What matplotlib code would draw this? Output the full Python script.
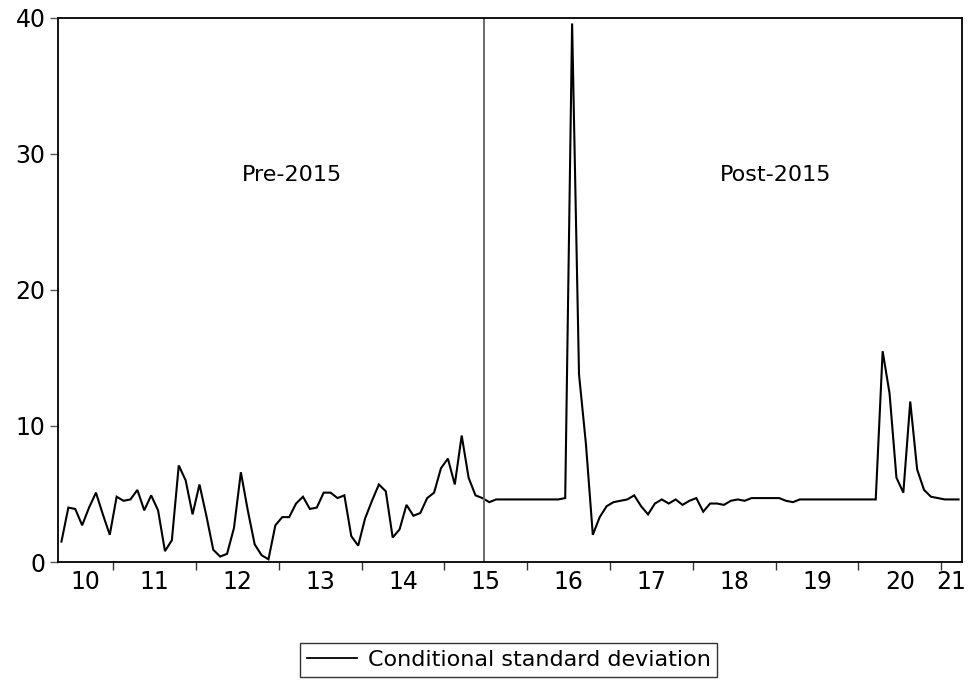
import numpy as np
import matplotlib
matplotlib.use("Agg")
import matplotlib.pyplot as plt
from matplotlib.lines import Line2D

plt.rcParams['font.family'] = ['DejaVu Sans']

# Monthly sample 2010M05 - 2021M03
start_year, start_month = 2010, 5
values = [
    1.5, 4.0, 3.9, 2.7, 4.0, 5.1, 3.5, 2.0, 4.8, 4.5,
    4.6, 5.3, 3.8, 4.9, 3.8, 0.8, 1.6, 7.1, 6.0, 3.5,
    5.7, 3.4, 0.9, 0.4, 0.6, 2.5, 6.6, 3.8, 1.3, 0.5,
    0.2, 2.7, 3.3, 3.3, 4.3, 4.8, 3.9, 4.0, 5.1, 5.1,
    4.7, 4.9, 1.9, 1.2, 3.2, 4.5, 5.7, 5.2, 1.8, 2.4,
    4.2, 3.4, 3.6, 4.7, 5.1, 6.9, 7.6, 5.7, 9.3, 6.2,
    4.9, 4.7, 4.4, 4.6, 4.6, 4.6, 4.6, 4.6, 4.6, 4.6,
    4.6, 4.6, 4.6, 4.7, 39.6, 13.8, 8.7, 2.0, 3.3, 4.1,
    4.4, 4.5, 4.6, 4.9, 4.1, 3.5, 4.3, 4.6, 4.3, 4.6,
    4.2, 4.5, 4.7, 3.7, 4.3, 4.3, 4.2, 4.5, 4.6, 4.5,
    4.7, 4.7, 4.7, 4.7, 4.7, 4.5, 4.4, 4.6, 4.6, 4.6,
    4.6, 4.6, 4.6, 4.6, 4.6, 4.6, 4.6, 4.6, 4.6, 15.5,
    12.4, 6.2, 5.1, 11.8, 6.8, 5.3, 4.8, 4.7, 4.6, 4.6,
    4.6,
]
break_date = 2015.48
year_labels = ['10', '11', '12', '13', '14', '15', '16', '17', '18', '19', '20', '21']
label_years = list(range(2010, 2022))
y_ticks = [0, 10, 20, 30, 40]
period_labels = ['Pre-2015', 'Post-2015']
period_label_x = [2013.16, 2019.0]
legend_label = 'Conditional standard deviation'

n = len(values)
t = np.array([start_year + (start_month - 1 + k) / 12 + 1 / 24 for k in range(n)])
xmin, xmax = t[0] - 1 / 24, t[-1] + 1 / 24

fig = plt.figure(figsize=(9.72, 6.8), dpi=100)
ax = fig.add_axes([58 / 972, 1 - 562 / 680, (962 - 58) / 972, (562 - 18) / 680])

ax.plot(t, values, color='black', lw=1.5, solid_joinstyle='miter')
ax.axvline(break_date, color='#6a6a6a', lw=1.4)

ax.set_xlim(xmin, xmax)
ax.set_ylim(0, 40)

ax.set_yticks(y_ticks)
ax.set_yticklabels([str(v) for v in y_ticks], fontsize=17)
ax.tick_params(axis='y', direction='out', length=6, width=1, color='#555555', pad=3)

# year boundary ticks
boundaries = [y for y in range(2011, 2022) if xmin < y < xmax]
ax.set_xticks(boundaries)
ax.set_xticklabels([])
ax.tick_params(axis='x', which='major', direction='out', length=6, width=1, color='#333333')
# labels centred in visible part of each year
centers = [(max(y, xmin) + min(y + 1, xmax)) / 2 for y in label_years]
ax.set_xticks(centers, minor=True)
ax.set_xticklabels(year_labels, minor=True, fontsize=17)
ax.tick_params(axis='x', which='minor', length=0, pad=6)

for s in ax.spines.values():
    s.set_linewidth(1.3)
    s.set_color('black')

for lx, lab in zip(period_label_x, period_labels):
    ax.text(lx, 28.45, lab, fontsize=16, ha='center', va='center')

handle = Line2D([0], [0], color='black', lw=1.3)
leg = fig.legend([handle], [legend_label], loc='center', bbox_to_anchor=(508.5 / 972, 1 - 660 / 680),
                 fontsize=16, frameon=True, fancybox=False, handlelength=2.25,
                 borderpad=0.3, handletextpad=0.5, borderaxespad=0)
leg.get_frame().set_edgecolor('black')
leg.get_frame().set_linewidth(1.0)

fig.savefig('out.png', dpi=100)
